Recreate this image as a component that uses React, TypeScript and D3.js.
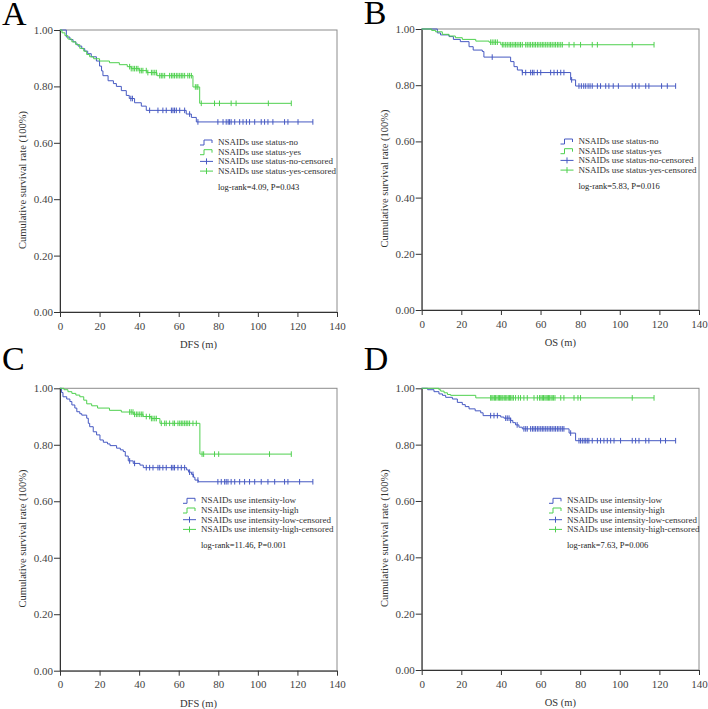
import { useEffect, useRef } from 'react';
import * as d3 from 'd3';

type Step = [number, number];

// A: DFS by NSAIDs use status
const aNoSteps: Step[] = [[0, 1], [3.2, 0.975], [5, 0.966], [6.6, 0.958], [8, 0.95], [9.1, 0.943], [11, 0.934], [12.5, 0.925], [14, 0.916], [15.8, 0.905], [18.4, 0.89], [20, 0.872], [21, 0.855], [21.7, 0.838], [24.3, 0.82], [27, 0.81], [28.5, 0.8], [31, 0.785], [33.5, 0.768], [35, 0.757], [37.7, 0.742], [41.1, 0.73], [43.6, 0.715], [63.8, 0.702], [66.4, 0.69], [68.9, 0.674]];
const aNoCensored = [35.8, 36.6, 45.3, 49.5, 52.0, 53.7, 56.3, 57.1, 57.9, 58.8, 60.5, 63.0, 65.5, 69.7, 79.8, 82.4, 84.0, 85.0, 85.7, 86.5, 88.3, 90.8, 92.5, 94.2, 95.8, 98.4, 101.7, 103.4, 105.1, 107.6, 113.5, 115.2, 120.3, 127.8];
const aYesSteps: Step[] = [[0, 1], [1, 0.99], [2.5, 0.98], [4, 0.968], [6, 0.958], [8, 0.948], [10, 0.935], [12, 0.925], [13.5, 0.913], [15, 0.905], [17, 0.898], [20, 0.89], [25, 0.884], [30, 0.877], [34, 0.87], [36, 0.863], [40, 0.856], [44, 0.849], [49, 0.838], [67.2, 0.798], [70.6, 0.74]];
const aYesCensored = [35.2, 36.0, 36.9, 37.7, 38.6, 39.4, 40.3, 41.1, 41.9, 43.6, 44.4, 46.2, 47.0, 47.9, 48.7, 50.4, 51.2, 52.0, 52.9, 55.4, 56.3, 57.1, 57.9, 58.8, 59.6, 60.5, 61.3, 62.1, 63.0, 64.6, 65.5, 66.4, 68.4, 69.2, 69.7, 71.4, 78.1, 80.6, 86.5, 89.0, 105.3, 116.9];

// B: OS by NSAIDs use status
const bNoSteps: Step[] = [[0, 1], [7.9, 0.986], [9.5, 0.979], [13.8, 0.973], [16, 0.963], [19.5, 0.955], [23.9, 0.937], [26, 0.925], [30.6, 0.92], [31.4, 0.9], [44.9, 0.884], [46.6, 0.866], [48.3, 0.854], [50.8, 0.845], [75.2, 0.819], [77.7, 0.797]];
const bNoCensored = [35.6, 50.8, 52.5, 55.0, 55.9, 56.7, 58.4, 60.1, 65.1, 66.8, 68.5, 70.2, 71.8, 75.7, 79.4, 80.6, 81.8, 82.8, 84.0, 85.0, 86.1, 88.7, 90.3, 92.9, 94.5, 96.7, 99.3, 106.3, 108.0, 109.7, 113.1, 114.7, 121.1, 124.0, 128.2];
const bYesSteps: Step[] = [[0, 1], [5, 0.995], [7, 0.99], [10.4, 0.981], [13.8, 0.975], [17, 0.969], [20.5, 0.963], [27.3, 0.957], [34, 0.953], [39.9, 0.944]];
const bYesCensored = [34.8, 35.6, 36.5, 37.3, 38.2, 40.7, 41.5, 42.4, 43.2, 44.1, 44.9, 45.7, 46.6, 47.4, 48.2, 49.1, 49.9, 50.8, 52.5, 53.3, 54.2, 55.0, 55.9, 56.7, 57.5, 58.4, 59.2, 60.1, 60.9, 61.7, 62.6, 63.4, 64.3, 65.1, 65.9, 66.8, 67.6, 68.5, 69.3, 70.2, 71.0, 74.4, 76.9, 80.2, 86.1, 88.7, 106.3, 117.3];

// C: DFS by NSAIDs use intensity
const cLowSteps: Step[] = [[0, 1], [0.8, 0.985], [1.5, 0.97], [3.4, 0.962], [5, 0.953], [6, 0.941], [7.5, 0.93], [8.5, 0.917], [10, 0.91], [11, 0.905], [13.5, 0.894], [14.3, 0.876], [15, 0.864], [16.8, 0.846], [18.5, 0.835], [20.2, 0.817], [21.9, 0.809], [24, 0.803], [25.3, 0.797], [28.6, 0.788], [30.5, 0.782], [32, 0.776], [33, 0.76], [34.5, 0.743], [37, 0.734], [40.4, 0.728], [42.1, 0.719], [64, 0.711], [65, 0.703], [66.5, 0.695], [67.5, 0.685], [68.2, 0.675], [69.9, 0.669]];
const cLowCensored = [35.2, 37.7, 43.6, 45.3, 47.0, 49.5, 50.4, 52.0, 53.7, 56.3, 57.1, 57.9, 59.6, 61.3, 63.0, 65.5, 67.2, 69.7, 79.8, 81.5, 83.2, 84.0, 84.9, 86.5, 88.3, 90.8, 93.3, 95.8, 98.4, 101.7, 105.1, 108.5, 113.5, 115.2, 121.1, 127.8];
const cHighSteps: Step[] = [[0, 1], [2, 0.995], [4, 0.988], [6, 0.982], [8, 0.976], [10, 0.97], [12, 0.958], [13.5, 0.945], [16, 0.938], [19, 0.93], [25, 0.922], [31, 0.916], [37, 0.908], [42, 0.9], [46, 0.893], [50.5, 0.876], [70.7, 0.767]];
const cHighCensored = [35.2, 36.0, 36.9, 37.7, 38.6, 39.4, 40.3, 41.1, 41.9, 43.6, 45.3, 46.2, 47.0, 47.9, 48.7, 51.2, 52.9, 53.7, 55.4, 57.1, 57.9, 59.6, 60.5, 61.3, 62.1, 63.0, 63.8, 64.6, 65.5, 67.2, 68.9, 71.8, 72.6, 78.1, 80.2, 105.9, 116.9];

// D: OS by NSAIDs use intensity
const dLowSteps: Step[] = [[0, 1], [3, 0.995], [6.2, 0.988], [8.7, 0.98], [10.5, 0.975], [12.1, 0.968], [15.5, 0.962], [18, 0.95], [20.5, 0.942], [22, 0.935], [23.9, 0.927], [27, 0.92], [29.8, 0.913], [31, 0.903], [39.9, 0.898], [41.5, 0.894], [44.9, 0.886], [46, 0.878], [47.4, 0.87], [49.1, 0.862], [50.8, 0.856], [74.4, 0.841], [77.7, 0.814]];
const dLowCensored = [34.8, 36.5, 38.2, 42.4, 43.2, 44.1, 44.9, 48.2, 51.6, 52.5, 53.3, 55.0, 55.9, 56.7, 57.5, 58.4, 59.2, 60.1, 60.9, 61.7, 62.6, 63.4, 64.3, 65.1, 65.9, 66.8, 67.6, 68.5, 69.3, 70.2, 71.0, 71.8, 75.2, 79.4, 80.2, 81.1, 82.0, 82.8, 83.6, 84.4, 86.1, 88.7, 90.3, 92.0, 93.7, 95.4, 97.1, 100.4, 106.3, 108.0, 109.7, 113.1, 114.7, 120.6, 123.1, 128.2];
const dHighSteps: Step[] = [[0, 1], [8.7, 0.995], [9.6, 0.99], [11.3, 0.984], [13, 0.978], [14.6, 0.975], [27.3, 0.966]];
const dHighCensored = [34.8, 35.4, 36.0, 36.7, 37.3, 38.0, 38.7, 39.3, 39.9, 40.5, 41.0, 41.7, 42.4, 43.0, 43.7, 44.3, 44.9, 45.6, 46.3, 47.4, 48.8, 49.9, 51.6, 53.3, 56.7, 58.4, 59.5, 60.2, 60.9, 61.5, 62.2, 62.8, 63.4, 64.0, 64.6, 65.3, 65.9, 66.6, 67.3, 70.2, 71.8, 76.9, 78.9, 80.2, 106.3, 117.3];

const xTicks = [0, 20, 40, 60, 80, 100, 120, 140];
const yTicks = [0, 0.2, 0.4, 0.6, 0.8, 1.0];

const statusLabels = ['NSAIDs use status-no', 'NSAIDs use status-yes', 'NSAIDs use status-no-censored', 'NSAIDs use status-yes-censored'];
const intensityLabels = ['NSAIDs use intensity-low', 'NSAIDs use intensity-high', 'NSAIDs use intensity-low-censored', 'NSAIDs use intensity-high-censored'];

const BLUE = '#4659c2';
const GREEN = '#4fd04f';
const FONT = "'Liberation Serif', 'Times New Roman', serif";

const panels = [
  { letter: 'A', letterY: 25, xLabel: 'DFS (m)', logRank: 'log-rank=4.09, P=0.043', box: { l: 60, r: 337, t: 30, b: 312 }, legendX: 200, labels: statusLabels,
    series: [{ steps: aNoSteps, censored: aNoCensored, color: BLUE }, { steps: aYesSteps, censored: aYesCensored, color: GREEN }] },
  { letter: 'B', letterY: 24, xLabel: 'OS (m)', logRank: 'log-rank=5.83, P=0.016', box: { l: 421.7, r: 699, t: 29, b: 310 }, legendX: 560.5, labels: statusLabels,
    series: [{ steps: bNoSteps, censored: bNoCensored, color: BLUE }, { steps: bYesSteps, censored: bYesCensored, color: GREEN }] },
  { letter: 'C', letterY: 370, xLabel: 'DFS (m)', logRank: 'log-rank=11.46, P=0.001', box: { l: 60, r: 337, t: 388.3, b: 670.7 }, legendX: 183, labels: intensityLabels,
    series: [{ steps: cLowSteps, censored: cLowCensored, color: BLUE }, { steps: cHighSteps, censored: cHighCensored, color: GREEN }] },
  { letter: 'D', letterY: 370, xLabel: 'OS (m)', logRank: 'log-rank=7.63, P=0.006', box: { l: 421.7, r: 699, t: 388.3, b: 670 }, legendX: 549, labels: intensityLabels,
    series: [{ steps: dLowSteps, censored: dLowCensored, color: BLUE }, { steps: dHighSteps, censored: dHighCensored, color: GREEN }] },
];

// survival value in effect at time t
const survivalAt = (steps: Step[], t: number) => {
  let s = steps[0][1];
  for (const [st, sv] of steps) if (st <= t) s = sv;
  return s;
};

export default function App() {
  const svgRef = useRef<SVGSVGElement | null>(null);

  useEffect(() => {
    if (!svgRef.current) return;
    const root = d3.select(svgRef.current);
    root.selectAll('*').remove();

    panels.forEach(p => {
      const { l, r, t, b } = p.box;
      const g = root.append('g');
      const x = d3.scaleLinear().domain([0, 140]).range([l, r]);
      const y = d3.scaleLinear().domain([0, 1]).range([b, t]);

      // frame
      g.append('rect')
        .attr('x', l).attr('y', t)
        .attr('width', r - l).attr('height', b - t)
        .attr('fill', 'none')
        .attr('stroke', '#8c8c8c');

      // axes
      g.append('g')
        .attr('transform', `translate(${l},0)`)
        .call(d3.axisLeft(y).tickValues(yTicks).tickFormat(d3.format('.2f')).tickSize(6).tickSizeOuter(0).tickPadding(1))
        .call(a => a.selectAll('path,line').attr('stroke', '#333'))
        .selectAll('text')
        .attr('fill', '#444')
        .attr('font-size', '11px')
        .attr('font-family', FONT);

      g.append('g')
        .attr('transform', `translate(0,${b})`)
        .call(d3.axisBottom(x).tickValues(xTicks).tickSize(5).tickSizeOuter(0).tickPadding(5))
        .call(a => a.selectAll('path,line').attr('stroke', '#333'))
        .selectAll('text')
        .attr('fill', '#444')
        .attr('font-size', '11px')
        .attr('font-family', FONT);

      // curves
      const line = d3.line<Step>().x(d => x(d[0])).y(d => y(d[1])).curve(d3.curveStepAfter);
      p.series.forEach(s => {
        const last = s.steps[s.steps.length - 1];
        const end = Math.max(d3.max(s.censored) ?? last[0], last[0]);
        g.append('path')
          .datum([...s.steps, [end, last[1]] as Step])
          .attr('d', line)
          .attr('fill', 'none')
          .attr('stroke', s.color)
          .attr('stroke-width', 1);

        g.selectAll(null)
          .data(s.censored)
          .join('line')
          .attr('x1', d => x(d)).attr('x2', d => x(d))
          .attr('y1', d => y(survivalAt(s.steps, d)) - 2.8)
          .attr('y2', d => y(survivalAt(s.steps, d)) + 2.8)
          .attr('stroke', s.color)
          .attr('stroke-width', 1);
      });

      // legend
      const lx = p.legendX;
      const rowY = (i: number) => t + 112 + i * 9.7;
      const colors = [BLUE, GREEN, BLUE, GREEN];
      p.labels.forEach((label, i) => {
        const yy = rowY(i);
        if (i < 2) {
          g.append('path')
            .attr('d', `M${lx},${yy + 3}H${lx + 4}V${yy - 2}H${lx + 12}V${yy + 1}`)
            .attr('fill', 'none')
            .attr('stroke', colors[i]);
        } else {
          g.append('path')
            .attr('d', `M${lx},${yy}H${lx + 13}M${lx + 6.5},${yy - 3}V${yy + 3}`)
            .attr('fill', 'none')
            .attr('stroke', colors[i]);
        }
        g.append('text')
          .attr('x', lx + 18).attr('y', yy + 3)
          .attr('font-size', '9px')
          .attr('font-family', FONT)
          .attr('fill', '#333')
          .text(label);
      });
      g.append('text')
        .attr('x', lx + 18).attr('y', t + 160)
        .attr('font-size', '8.5px')
        .attr('font-family', FONT)
        .attr('fill', '#222')
        .text(p.logRank);

      // axis titles
      g.append('text')
        .attr('x', (l + r) / 2).attr('y', b + 36)
        .attr('text-anchor', 'middle')
        .attr('font-size', '10.5px')
        .attr('font-family', FONT)
        .attr('fill', '#333')
        .text(p.xLabel);

      g.append('text')
        .attr('transform', `translate(${l - 34},${(t + b) / 2 + 9}) rotate(-90)`)
        .attr('text-anchor', 'middle')
        .attr('font-size', '10.5px')
        .attr('font-family', FONT)
        .attr('fill', '#333')
        .text('Cumulative survival rate (100%)');

      // panel letter
      g.append('text')
        .attr('x', l - 58).attr('y', p.letterY)
        .attr('font-size', '34px')
        .attr('font-family', FONT)
        .attr('fill', '#000')
        .text(p.letter);
    });
  }, []);

  return (
    <div style={{ position: 'absolute', left: 0, top: 0, background: '#fff' }}>
      <svg ref={svgRef} width={708} height={709} />
    </div>
  );
}
